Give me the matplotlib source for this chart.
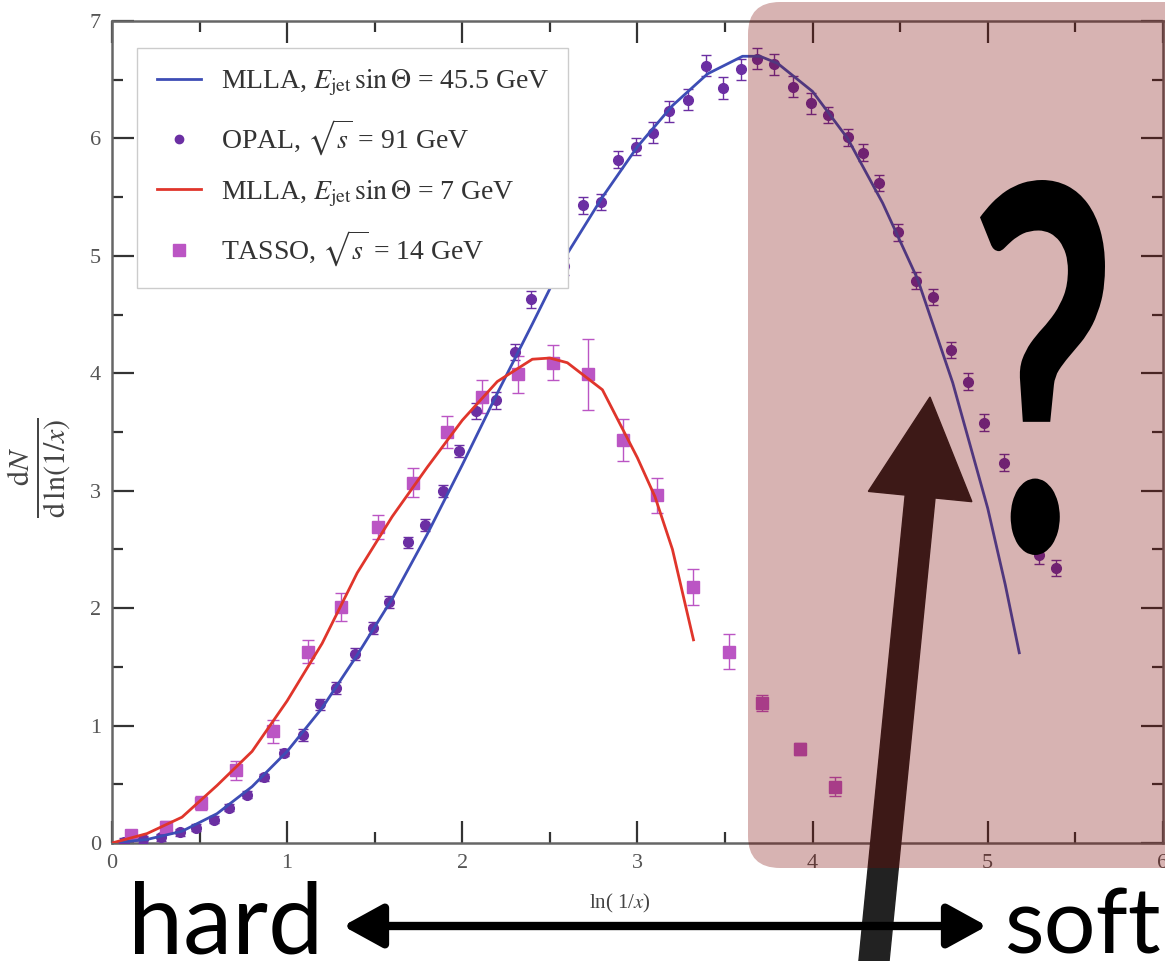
import numpy as np
import matplotlib
matplotlib.use("Agg")
import matplotlib.pyplot as plt
import matplotlib.patches as mpatches
from matplotlib.transforms import IdentityTransform, Affine2D
from matplotlib.textpath import TextPath
from matplotlib.font_manager import FontProperties
from matplotlib.lines import Line2D
from matplotlib.ticker import MultipleLocator

plt.rcParams['font.family'] = ['Liberation Serif', 'DejaVu Serif']
plt.rcParams['mathtext.fontset'] = 'stix'

# OPAL, sqrt(s) = 91 GeV
opal_x = [0.07, 0.18, 0.28, 0.39, 0.48, 0.58, 0.67, 0.77, 0.87, 0.98,
          1.09, 1.19, 1.28, 1.39, 1.49, 1.58, 1.69, 1.79, 1.89, 1.98,
          2.08, 2.19, 2.30, 2.39, 2.47, 2.58, 2.69, 2.79, 2.89, 2.99,
          3.09, 3.18, 3.29, 3.39, 3.49, 3.59, 3.68, 3.78, 3.89, 3.99,
          4.09, 4.20, 4.29, 4.38, 4.49, 4.59, 4.69, 4.79, 4.89, 4.98,
          5.09, 5.19, 5.29, 5.39]
opal_y = [0.01, 0.03, 0.05, 0.09, 0.13, 0.20, 0.30, 0.41, 0.56, 0.77,
          0.92, 1.18, 1.32, 1.61, 1.83, 2.05, 2.56, 2.71, 3.00, 3.34,
          3.68, 3.77, 4.18, 4.63, 4.91, 4.91, 5.43, 5.46, 5.82, 5.93,
          6.05, 6.23, 6.33, 6.62, 6.43, 6.59, 6.68, 6.63, 6.44, 6.30,
          6.20, 6.01, 5.88, 5.62, 5.20, 4.79, 4.65, 4.20, 3.93, 3.58,
          3.24, 2.88, 2.45, 2.34]
opal_err = [0.03] * 10 + [0.05] * 10 + [0.07] * 10 + [0.09] * 10 + [0.07] * 14

# TASSO, sqrt(s) = 14 GeV
tasso_x = [0.11, 0.31, 0.51, 0.71, 0.92, 1.12, 1.31, 1.52, 1.72, 1.91,
           2.11, 2.32, 2.52, 2.72, 2.92, 3.11, 3.32, 3.52, 3.71, 3.93, 4.13]
tasso_y = [0.07, 0.14, 0.34, 0.62, 0.95, 1.63, 2.01, 2.69, 3.07, 3.50,
           3.80, 3.99, 4.09, 3.99, 3.43, 2.96, 2.18, 1.63, 1.19, 0.80, 0.48]
tasso_err = [0.04, 0.05, 0.06, 0.08, 0.10, 0.10, 0.12, 0.10, 0.12, 0.14,
             0.14, 0.16, 0.15, 0.30, 0.18, 0.15, 0.15, 0.15, 0.07, 0.05, 0.08]

# MLLA, Ejet sin(Theta) = 45.5 GeV
mlla45_x = [0.0, 0.2, 0.4, 0.6, 0.8, 1.0, 1.2, 1.4, 1.6, 1.8, 2.0, 2.2, 2.4,
            2.6, 2.8, 3.0, 3.2, 3.4, 3.6, 3.7, 3.8, 4.0, 4.2, 4.4, 4.6, 4.8,
            5.0, 5.1, 5.18]
mlla45_y = [0.0, 0.03, 0.10, 0.25, 0.48, 0.78, 1.15, 1.60, 2.08, 2.63, 3.22,
            3.83, 4.42, 5.02, 5.50, 5.93, 6.28, 6.55, 6.70, 6.70, 6.64, 6.40,
            6.00, 5.45, 4.80, 3.92, 2.85, 2.20, 1.62]

# MLLA, Ejet sin(Theta) = 7 GeV
mlla7_x = [0.0, 0.2, 0.4, 0.6, 0.8, 1.0, 1.2, 1.4, 1.6, 1.8, 2.0, 2.2, 2.4,
           2.5, 2.6, 2.8, 3.0, 3.1, 3.2, 3.32]
mlla7_y = [0.0, 0.08, 0.22, 0.49, 0.78, 1.21, 1.70, 2.30, 2.78, 3.20, 3.60,
           3.93, 4.12, 4.13, 4.09, 3.86, 3.28, 2.95, 2.50, 1.73]

labels = [r'MLLA, $E_{\rm jet}\,\mathrm{sin}\,\Theta$ = 45.5 GeV',
          r'OPAL, $\sqrt{s}$ = 91 GeV',
          r'MLLA, $E_{\rm jet}\,\mathrm{sin}\,\Theta$ = 7 GeV',
          r'TASSO, $\sqrt{s}$ = 14 GeV']

c_blue, c_red = '#3d4db5', '#e0352b'
c_opal, c_tasso = '#6b2fa3', '#bb55c4'
grey = '#555555'

fig = plt.figure(figsize=(11.65, 9.61), dpi=100)
ax = fig.add_axes([0.0961, 0.1228, 0.9021, 0.8553])

ax.plot(mlla45_x, mlla45_y, color=c_blue, lw=2, zorder=4)
ax.plot(mlla7_x, mlla7_y, color=c_red, lw=2, zorder=4)
ax.errorbar(opal_x, opal_y, yerr=opal_err, fmt='o', color=c_opal, ms=7,
            capsize=3.5, elinewidth=1, capthick=1, zorder=3)
ax.errorbar(tasso_x, tasso_y, yerr=tasso_err, fmt='s', color=c_tasso, ms=9,
            capsize=4.5, elinewidth=1, capthick=1, zorder=3)

ax.set_xlim(0, 6)
ax.set_ylim(0, 7)
ax.xaxis.set_major_locator(MultipleLocator(1))
ax.xaxis.set_minor_locator(MultipleLocator(0.5))
ax.yaxis.set_major_locator(MultipleLocator(1))
ax.yaxis.set_minor_locator(MultipleLocator(0.5))
ax.tick_params(which='both', direction='in', top=True, right=True,
               color='#333333', width=1.6, labelsize=16, labelcolor=grey)
ax.tick_params(which='major', length=16, pad=8)
ax.tick_params(which='minor', length=8)
for s in ax.spines.values():
    s.set_color('#666666')
    s.set_linewidth(1.8)

handles = [Line2D([], [], color=c_blue, lw=2),
           Line2D([], [], ls='none', marker='o', color=c_opal, ms=6),
           Line2D([], [], color=c_red, lw=2),
           Line2D([], [], ls='none', marker='s', color=c_tasso, ms=8)]
leg = ax.legend(handles, labels, loc='upper left', bbox_to_anchor=(0.024, 0.967),
                fontsize=20, frameon=True, fancybox=False, edgecolor='#cccccc',
                framealpha=1, handlelength=1.6, handletextpad=0.7,
                labelspacing=0.72, borderpad=0.7, borderaxespad=0)
for t in leg.get_texts():
    t.set_color('#333333')

fig.text(40 / 1165, (961 - 468) / 961, r'$\frac{\mathrm{d}N}{\mathrm{d\,ln}(1/x)}$',
         rotation=90, ha='center', va='center', fontsize=31, color='#444444')
fig.text(620 / 1165, (961 - 903) / 961, r'ln( 1/$x$)', ha='center', va='center',
         fontsize=15, color='#444444')

# annotation layer, in pixels
px = IdentityTransform()
up = mpatches.FancyArrow(872, -20, 58, 584, width=30, head_width=104,
                         head_length=100, length_includes_head=True,
                         transform=px, color='#222222', zorder=5)
fig.add_artist(up)
shade = mpatches.FancyBboxPatch((748, 93), 520, 866,
                                boxstyle='round,pad=0,rounding_size=32',
                                transform=px, fc='#7d0500', ec='none',
                                alpha=0.3, zorder=6)
fig.add_artist(shade)

qp = TextPath((0, 0), '?', size=100, prop=FontProperties(family='Lato', weight='bold'))
b = qp.get_extents()
sx = (1105 - 980) / b.width
sy = (781 - 406) / b.height
qp = qp.transformed(Affine2D().translate(-b.x0, -b.y0).scale(sx, sy).translate(980, 406))
fig.add_artist(mpatches.PathPatch(qp, transform=px, fc='black', ec='none', zorder=7))

fig.add_artist(mpatches.FancyArrowPatch((343, 35), (987, 35), transform=px,
                                        arrowstyle='<|-|>,head_length=0.4,head_width=0.22',
                                        mutation_scale=60, lw=6, color='black',
                                        shrinkA=0, shrinkB=0, zorder=7))
fig.text(128, 8, 'hard', transform=px, fontsize=71, family='Lato',
         ha='left', va='baseline', color='black', zorder=7)
fig.text(1162, 8, 'soft', transform=px, fontsize=66, family='Lato',
         ha='right', va='baseline', color='black', zorder=7)

fig.savefig('out.png', dpi=100)
